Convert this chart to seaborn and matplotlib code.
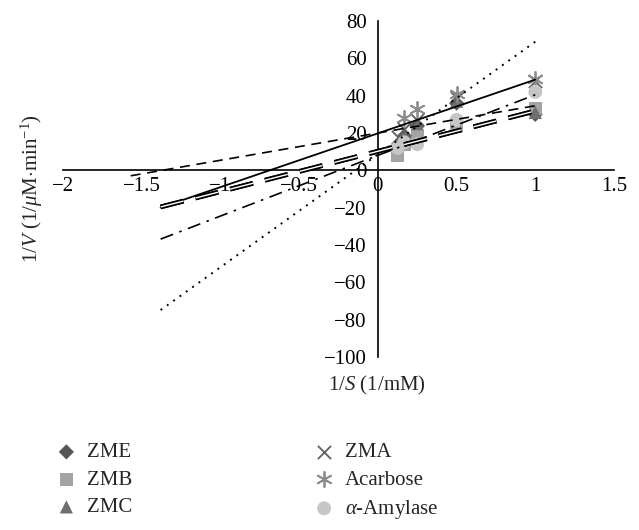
import matplotlib
matplotlib.use("Agg")
import matplotlib.pyplot as plt
import seaborn as sns
import pandas as pd
import numpy as np

sns.set_style("white")
plt.rcParams['font.family'] = ['Liberation Serif', 'DejaVu Serif']
plt.rcParams['mathtext.fontset'] = 'custom'
plt.rcParams['mathtext.rm'] = 'Liberation Serif'
plt.rcParams['mathtext.it'] = 'Liberation Serif:italic'

# data
series = ['ZME', 'ZMB', 'ZMC', 'ZMA', 'Acarbose', r'$\alpha$-Amylase']
inv_s = [0.125, 0.167, 0.25, 0.5, 1.0]
zme = [13, 18, 24, 36, 30]
zmb = [8, 14, 18, 24, 33]
zmc = [14, 20, 25, 37, 31]
zma = [18, 22, 27, 39, 48]
acarbose = [np.nan, 28, 33, 41, 49]
amylase = [12, 15, 14, 27, 42]

# trendlines (slope, intercept, first x)
slopes = [21.6, 21.6, 14.6, 28.8, 60.4, 32.5]
intercepts = [10.2, 10.2, 20.0, 19.8, 8.5, 8.0]
x_start = [-1.38, -1.38, -1.57, -1.38, -1.38, -1.38]
x_end = 1.0

colors = ['#555555', '#a3a3a3', '#6e6e6e', '#5e5e5e', '#8c8c8c', '#c6c6c6']
markers = ['D', 's', '^', 'x', (6, 2, 0), 'o']
sizes = [60, 90, 90, 90, 120, 100]

rows = []
for name, vals in zip(series, [zme, zmb, zmc, zma, acarbose, amylase]):
    for xv, yv in zip(inv_s, vals):
        if not np.isnan(yv):
            rows.append({'x': xv, 'y': yv, 'series': name})
df = pd.DataFrame(rows)

fig = plt.figure(figsize=(6.39, 5.30), dpi=100)
ax = fig.add_axes([0.0986, 0.3264, 0.8623, 0.634])

for name, col, mk, sz in zip(series, colors, markers, sizes):
    sub = df[df['series'] == name]
    lw = 1.3 if mk in ('x', (6, 2, 0)) else 0
    sns.scatterplot(data=sub, x='x', y='y', color=col, marker=mk, s=sz,
                    linewidth=lw, edgecolor=col if lw else 'none',
                    ax=ax, zorder=3, label=name)

# trendlines
styles = [
    dict(color='black', lw=3.4, linestyle=(0, (5, 2.6))),
    dict(color='black', lw=3.4, linestyle=(0, (5, 2.6))),
    dict(color='black', lw=1.2, linestyle=(0, (6, 4))),
    dict(color='black', lw=1.3, linestyle='-'),
    dict(color='black', lw=1.4, linestyle=(0, (1, 3))),
    dict(color='black', lw=1.2, linestyle=(0, (8, 4, 1.5, 4))),
]
for m, b, x0, st in zip(slopes, intercepts, x_start, styles):
    xs = np.array([x0, x_end])
    sns.lineplot(x=xs, y=m * xs + b, ax=ax, legend=False, zorder=4, **st)
# white core for the compound double line
xs = np.array([x_start[0], x_end])
ax.plot(xs, slopes[0] * xs + intercepts[0], color='white', lw=1.0,
        linestyle=(0, (17, 8.84)), zorder=5)

ax.set_xlim(-2, 1.5)
ax.set_ylim(-100, 80)
ax.set_xticks([-2, -1.5, -1, -0.5, 0, 0.5, 1, 1.5])
ax.set_xticklabels(['\u22122', '\u22121.5', '\u22121', '\u22120.5', '0', '0.5', '1', '1.5'])
yt = list(range(-100, 81, 20))
ax.set_yticks(yt)
ax.set_yticklabels([('\u2212' + str(-v)) if v < 0 else str(v) for v in yt])

ax.spines['left'].set_position(('data', 0))
ax.spines['bottom'].set_position(('data', 0))
ax.spines['top'].set_visible(False)
ax.spines['right'].set_visible(False)
for sp in ['left', 'bottom']:
    ax.spines[sp].set_color('black')
    ax.spines[sp].set_linewidth(1.2)
ax.tick_params(axis='x', direction='inout', length=8, width=1.1, labelsize=15, pad=1, colors='black')
ax.tick_params(axis='y', direction='out', length=5, width=1.1, labelsize=15, pad=3, colors='black')

ax.set_xlabel('1/$S$ (1/mM)', fontsize=15)
ax.set_ylabel('1/$V$ (1/$\\mu$M$\\cdot$min$^{-1}$)', fontsize=15)
ax.xaxis.set_label_coords(0.57, -0.05)
ax.yaxis.set_label_coords(-0.032, 0.5)

ax.legend(loc='center left', bbox_to_anchor=(0.068, 0.091), bbox_transform=fig.transFigure,
          ncol=2, frameon=False, fontsize=15, columnspacing=8.5, borderaxespad=0,
          handletextpad=0.3, handlelength=1.4, labelspacing=0.38)

fig.savefig('out.png', dpi=100)
